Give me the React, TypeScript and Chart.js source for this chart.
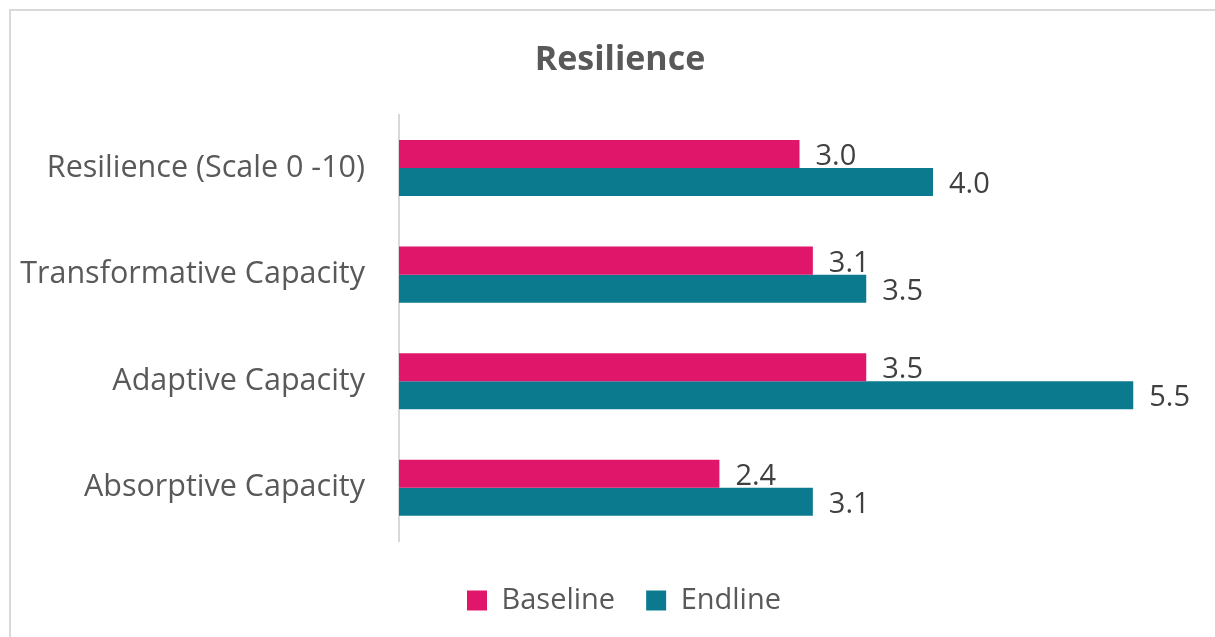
import React, { useEffect, useRef } from "react";
import { Chart, registerables } from "chart.js";

Chart.register(...registerables);

const categories = [
  "Resilience (Scale 0 -10)",
  "Transformative Capacity",
  "Adaptive Capacity",
  "Absorptive Capacity",
];
const baselineValues = [3.0, 3.1, 3.5, 2.4];
const endlineValues = [4.0, 3.5, 5.5, 3.1];
const seriesNames = ["Baseline", "Endline"];
const titleText = "Resilience";

const PINK = "#E0166A";
const TEAL = "#0C7A8E";
const FONT = "'Open Sans', 'Noto Sans', sans-serif";

// labels drawn before the bars so the next series' bar overlaps them, as in the reference
const valueLabels = {
  id: "valueLabels",
  beforeDatasetsDraw(chart: any) {
    const ctx = chart.ctx;
    ctx.save();
    ctx.font = `29px ${FONT}`;
    ctx.fillStyle = "#404040";
    ctx.textAlign = "left";
    ctx.textBaseline = "middle";
    chart.data.datasets.forEach((ds: any, di: number) => {
      const meta = chart.getDatasetMeta(di);
      meta.data.forEach((bar: any, i: number) => {
        const v = ds.data[i] as number;
        ctx.fillText(v.toFixed(1), bar.x + 16, bar.y + 3);
      });
    });
    ctx.restore();
  },
};

const boxShift = {
  id: "boxShift",
  afterLayout(chart: any) {
    const lg = chart.legend;
    if (lg) {
      lg.top += 14;
      lg.bottom += 14;
      lg.left += 24;
      lg.right += 24;
    }
    const tt = chart.titleBlock;
    if (tt) {
      tt.left += 20;
      tt.right += 20;
    }
  },
};

export default function App() {
  const ref = useRef<HTMLCanvasElement | null>(null);
  useEffect(() => {
    document.body.style.margin = "0";
    const chart = new Chart(ref.current!, {
      type: "bar",
      data: {
        labels: categories,
        datasets: [
          {
            label: seriesNames[0],
            data: baselineValues,
            backgroundColor: PINK,
            categoryPercentage: 0.526,
            barPercentage: 1,
          },
          {
            label: seriesNames[1],
            data: endlineValues,
            backgroundColor: TEAL,
            categoryPercentage: 0.526,
            barPercentage: 1,
          },
        ],
      },
      options: {
        indexAxis: "y",
        animation: false,
        responsive: false,
        maintainAspectRatio: false,
        layout: { padding: { left: 0, right: 15, top: 0, bottom: 26 } },
        scales: {
          x: { display: false, min: 0, max: 6 },
          y: {
            afterFit(scale: any) {
              scale.width = 399;
            },
            grid: { display: false, drawTicks: false },
            border: { display: true, color: "#D9D9D9", width: 2 },
            ticks: {
              padding: 34,
              color: "#595959",
              font: { family: FONT, size: 30.5 },
            },
          },
        },
        plugins: {
          title: {
            display: true,
            text: titleText,
            color: "#595959",
            font: { family: FONT, size: 34, weight: "bold" },
            padding: { top: 40, bottom: 34 },
          },
          legend: {
            position: "bottom",
            labels: {
              boxWidth: 20,
              boxHeight: 20,
              padding: 31,
              color: "#595959",
              font: { family: FONT, size: 29 },
            },
          },
          tooltip: { enabled: false },
        },
      },
      plugins: [valueLabels, boxShift],
    });
    return () => chart.destroy();
  }, []);
  return (
    <div style={{ position: "relative", width: 1215, height: 637, background: "#fff" }}>
      <div
        style={{
          position: "absolute",
          left: 9,
          top: 9,
          width: 1220,
          height: 640,
          borderLeft: "2px solid #D9D9D9",
          borderTop: "2px solid #D9D9D9",
          pointerEvents: "none",
        }}
      />
      <canvas ref={ref} width={1215} height={637} style={{ position: "absolute", left: 0, top: 0 }} />
    </div>
  );
}
